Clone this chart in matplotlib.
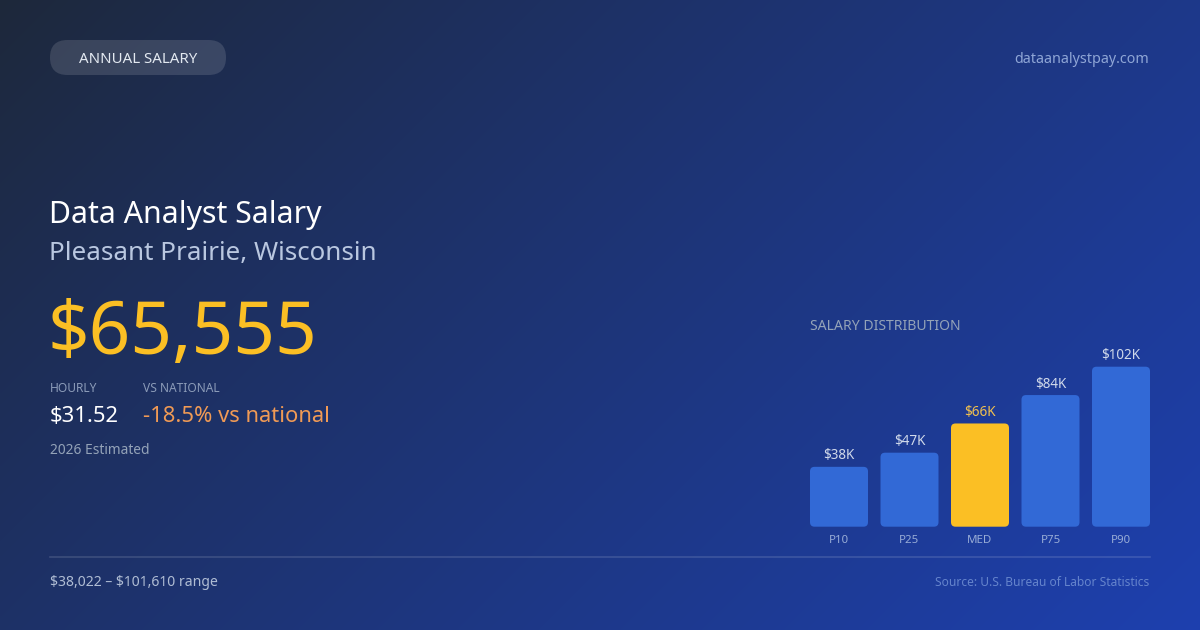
import numpy as np
import matplotlib
matplotlib.use("Agg")
import matplotlib.pyplot as plt
from matplotlib.patches import FancyBboxPatch

plt.rcParams['font.family'] = ['Noto Sans', 'DejaVu Sans']
plt.rcParams['text.parse_math'] = False

# ---- data ----
categories = ["P10", "P25", "MED", "P75", "P90"]
values = [38022, 47000, 65555, 83600, 101610]
value_labels = ["$38K", "$47K", "$66K", "$84K", "$102K"]
highlight = "MED"

badge_text = "ANNUAL SALARY"
site_text = "dataanalystpay.com"
title_text = "Data Analyst Salary"
location_text = "Pleasant Prairie, Wisconsin"
salary_text = "$65,555"
hourly_label = "HOURLY"
hourly_value = "$31.52"
national_label = "VS NATIONAL"
national_value = "-18.5% vs national"
estimate_text = "2026 Estimated"
range_text = "$38,022 \u2013 $101,610 range"
source_text = "Source: U.S. Bureau of Labor Statistics"
dist_title = "SALARY DISTRIBUTION"

W, H = 1200, 630
DPI = 100
PT = 72.0 / DPI  # px -> pt

fig = plt.figure(figsize=(W / DPI, H / DPI), dpi=DPI)

# ---- background gradient ----
bg = fig.add_axes([0, 0, 1, 1])
bg.set_xlim(0, W)
bg.set_ylim(H, 0)
bg.axis("off")
yy, xx = np.mgrid[0:H:2, 0:W:2]
t = ((xx + yy) / (W + H)) ** 0.9
c0 = np.array([29, 40, 58]) / 255.0
c1 = np.array([30, 64, 175]) / 255.0
img = c0[None, None, :] * (1 - t[..., None]) + c1[None, None, :] * t[..., None]
bg.imshow(img, extent=[0, W, H, 0], aspect="auto", interpolation="bilinear", zorder=0)

# ---- badge ----
pill = FancyBboxPatch((50, 40), 176, 35, boxstyle="round,pad=0,rounding_size=17.5",
                      facecolor=(1, 1, 1, 0.13), edgecolor="none", zorder=2)
bg.add_patch(pill)
bg.text(138, 63.3, badge_text, fontsize=15 * PT, color="#e2e8f0",
        ha="center", va="baseline", zorder=3)

bg.text(1149, 63, site_text, fontsize=14.3 * PT, color="#8fa6d6",
        ha="right", va="baseline", zorder=3)

# ---- left text block ----
bg.text(49, 223.5, title_text, fontsize=30.2 * PT, color="#ffffff",
        ha="left", va="baseline", zorder=3)
bg.text(49, 260, location_text, fontsize=26 * PT, color="#b9c7e0",
        ha="left", va="baseline", zorder=3)
bg.text(47, 354, salary_text, fontsize=72.8 * PT, color="#fbbf24",
        ha="left", va="baseline", zorder=3)

bg.text(50, 391.7, hourly_label, fontsize=12 * PT, color="#8b9bb8",
        ha="left", va="baseline", zorder=3)
bg.text(143, 391.7, national_label, fontsize=12 * PT, color="#8b9bb8",
        ha="left", va="baseline", zorder=3)
bg.text(50, 421.5, hourly_value, fontsize=22 * PT, color="#ffffff",
        ha="left", va="baseline", zorder=3)
bg.text(143, 421.5, national_value, fontsize=22 * PT, color="#f09a55",
        ha="left", va="baseline", zorder=3)
bg.text(50, 454, estimate_text, fontsize=13.8 * PT, color="#94a3b8",
        ha="left", va="baseline", zorder=3)

# ---- divider and footer ----
bg.plot([50, 1150], [556.5, 556.5], color=(1, 1, 1, 0.14), lw=1.2, zorder=3)
bg.text(50, 586, range_text, fontsize=14 * PT, color="#b0bdd4",
        ha="left", va="baseline", zorder=3)
bg.text(1149, 586, source_text, fontsize=12 * PT, color="#6584cc",
        ha="right", va="baseline", zorder=3)

bg.text(810, 330, dist_title, fontsize=14 * PT, color="#94a3b8",
        ha="left", va="baseline", zorder=3)

# ---- bar chart ----
px_per_unit = 70.5
bar_w_px = 58.0
half = (bar_w_px / 2) / px_per_unit
x_left_px = 810
x_right_px = 1150
base_px = 526.7
top_px = 330
max_h_px = 160.0
ytop = max(values) * (base_px - top_px) / max_h_px

ax = fig.add_axes([x_left_px / W, 1 - base_px / H,
                   (x_right_px - x_left_px) / W, (base_px - top_px) / H])
ax.set_facecolor("none")
ax.patch.set_alpha(0)
xpos = np.arange(len(categories))
ax.set_xlim(-half, len(categories) - 1 + half)
ax.set_ylim(0, ytop)
for s in ax.spines.values():
    s.set_visible(False)
ax.set_yticks([])
ax.set_xticks(xpos)
ax.set_xticklabels(categories)
ax.tick_params(axis="x", length=0, pad=5.8, labelsize=11.5 * PT, labelcolor="#98acd6")

colors = ["#fbbf24" if c == highlight else "#3269d6" for c in categories]
bars = ax.bar(xpos, values, width=2 * half, color=colors)

# rounded corners: replace rectangles by rounded boxes in data coordinates
y_per_px = ytop / (base_px - top_px)
x_per_px = 1.0 / px_per_unit
r_px = 4.5
aspect = y_per_px / x_per_px
for b, col in zip(bars, colors):
    b.set_visible(False)
    x0, y0 = b.get_x(), b.get_y()
    w, h = b.get_width(), b.get_height()
    fb = FancyBboxPatch((x0, y0), w, h,
                        boxstyle=f"round,pad=0,rounding_size={r_px * x_per_px}",
                        mutation_aspect=aspect, facecolor=col, edgecolor="none")
    ax.add_patch(fb)

for xi, v, lab, c in zip(xpos, values, value_labels, categories):
    ax.annotate(lab, (xi, v), xytext=(0, 7.4 * PT), textcoords="offset points",
                ha="center", va="baseline", fontsize=13.5 * PT,
                color="#f2c14e" if c == highlight else "#d0d9ea")

fig.savefig("out.png", dpi=DPI)
